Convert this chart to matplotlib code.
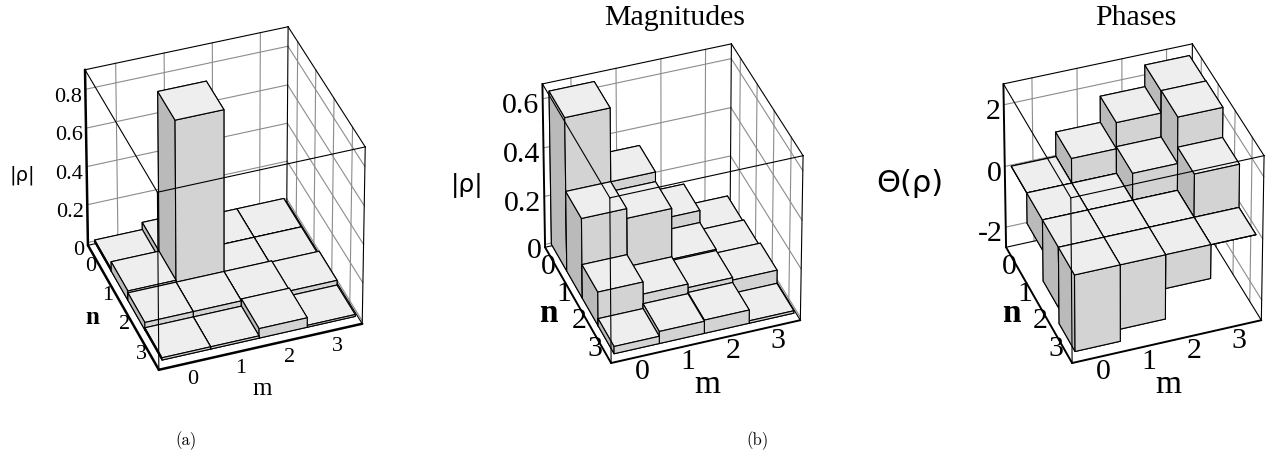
import matplotlib
matplotlib.use("Agg")
import matplotlib.pyplot as plt
from mpl_toolkits.mplot3d import proj3d

W, H = 1278, 476

# |rho| for panel (a), rows n = 0..3, columns m = 0..3
rho_a = [
    [0.012, 0.050, 0.012, 0.012],
    [0.050, 0.880, 0.012, 0.012],
    [0.040, 0.040, 0.040, 0.035],
    [0.012, 0.012, 0.050, 0.010],
]
# magnitudes, panel (b)
rho_mag = [
    [0.630, 0.330, 0.130, 0.040],
    [0.330, 0.290, 0.080, 0.050],
    [0.140, 0.090, 0.075, 0.065],
    [0.030, 0.050, 0.055, 0.010],
]
# phases, panel (b)
rho_phase = [
    [0.00, 0.80, 1.65, 2.35],
    [-1.00, 0.00, 0.87, 2.37],
    [-2.00, -1.10, 0.00, 1.40],
    [-2.50, -2.10, -1.10, 0.00],
]
m_ticks = [0, 1, 2, 3]
n_ticks = [0, 1, 2, 3]
ztick_a = [0, 0.2, 0.4, 0.6, 0.8]
ztick_mag = [0, 0.2, 0.4, 0.6]
ztick_phase = [-2, 0, 2]
ztext_a = ["0", "0.2", "0.4", "0.6", "0.8"]
ztext_mag = ["0", "0.2", "0.4", "0.6"]
ztext_phase = ["-2", "0", "2"]

TOP = "#eeeeee"
FRONT = "#d3d3d3"
SIDE = "#bababa"
SERIF = "Liberation Serif"

plt.rcParams["font.family"] = SERIF
fig = plt.figure(figsize=(W / 100, H / 100), dpi=100, facecolor="white")


def panel(rect, values, zlim, zticks, ztext, tick_size, thick, aspect, zoom):
    """one 3D bar panel; rect is left, top, width, height in pixels"""
    left, top, width, height = rect
    ax = fig.add_axes([left / W, 1 - (top + height) / H, width / W, height / H],
                      projection="3d", computed_zorder=False)
    ax.patch.set_alpha(0)
    ax.set_proj_type("persp", focal_length=2.6)
    ax.view_init(elev=37, azim=-110)
    ax.set_box_aspect(aspect, zoom=zoom)
    ax.set_axis_off()
    x0, x1 = -0.63, 3.58
    y0, y1 = 3.68, -0.54      # n grows toward the viewer
    ax.set_xlim(x0, x1)
    ax.set_ylim(y0, y1)
    ax.set_zlim(*zlim)
    z0, z1 = zlim

    # back walls
    grid = dict(color="#8c8c8c", lw=0.8, zorder=1)
    for z in zticks:
        ax.plot([x0, x1], [y1, y1], [z, z], **grid)
        ax.plot([x1, x1], [y1, y0], [z, z], **grid)
    for m in m_ticks:
        ax.plot([m, m], [y1, y1], [z0, z1], **grid)
    for n in n_ticks:
        ax.plot([x1, x1], [n, n], [z0, z1], **grid)
    thin = dict(color="black", lw=0.8)
    ax.plot([x1, x1], [y1, y1], [z0, z1], zorder=2, **thin)
    ax.plot([x0, x1], [y1, y1], [z0, z0], zorder=2, **thin)
    ax.plot([x1, x1], [y1, y0], [z0, z0], zorder=2, **thin)

    # far bars first
    order = 3
    for n in n_ticks:
        for m in reversed(m_ticks):
            v = values[n][m]
            ax.bar3d(m - 0.5, n - 0.5, min(v, 0), 1, 1, abs(v),
                     color=[FRONT, TOP, SIDE, FRONT, SIDE, FRONT],
                     shade=False, edgecolor="black", linewidth=0.8,
                     zorder=order)
            order += 1

    # frame in front of the bars
    f = 60
    ax.plot([x0, x1], [y1, y1], [z1, z1], zorder=f, **thin)
    ax.plot([x0, x1], [y0, y0], [z1, z1], zorder=f, **thin)
    ax.plot([x0, x0], [y1, y0], [z1, z1], zorder=f, **thin)
    ax.plot([x1, x1], [y1, y0], [z1, z1], zorder=f, **thin)
    ax.plot([x0, x0], [y0, y0], [z0, z1], zorder=f, **thin)
    ax.plot([x1, x1], [y0, y0], [z0, z1], zorder=f, **thin)
    heavy = dict(color="black", lw=thick, zorder=f + 1, solid_capstyle="round")
    ax.plot([x0, x0], [y1, y1], [z0, z1], **heavy)
    ax.plot([x0, x0], [y1, y0], [z0, z0], **heavy)
    ax.plot([x0, x1], [y0, y0], [z0, z0], **heavy)

    # tick labels, as flat text at the projected spot
    def tick(x, y, z, s, ha):
        xs, ys, _ = proj3d.proj_transform(x, y, z, ax.get_proj())
        ax.text2D(xs, ys, s, transform=ax.transData, ha=ha, va="center",
                  fontsize=tick_size, zorder=f + 2)

    drop = 0.04 * (z1 - z0)
    for z, s in zip(zticks, ztext):
        tick(x0 - 0.07, y1, z - drop, s, "right")
    for n in n_ticks:
        tick(x0 - 0.12, n, z0 - drop * 0.6, str(n), "center")
    for m in m_ticks:
        tick(m - 0.12, y0 + 0.5, z0, str(m), "center")
    return ax


panel((-2, -17, 440, 440), rho_a, (-0.015, 0.90), ztick_a, ztext_a, 16, 1.8, (1, 1, 1.02), 0.832)
panel((456, -2, 420, 420), rho_mag, (-0.012, 0.66), ztick_mag, ztext_mag, 21.5, 1.4, (1, 1, 1.02), 0.811)
panel((917, -2, 420, 420), rho_phase, (-2.67, 2.67), ztick_phase, ztext_phase, 21.5, 1.4, (1, 1, 1.02), 0.811)


def label(x, y, s, **kw):
    fig.text(x / W, 1 - y / H, s, ha="center", va="center", **kw)


label(22, 175, "|ρ|", family="DejaVu Sans", fontsize=14)
label(467, 185, "|ρ|", family="DejaVu Sans", fontsize=18)
label(910, 183, "Θ(ρ)", family="DejaVu Sans", fontsize=22)
label(92, 318, "n", fontsize=18, fontweight="bold")
label(262, 389, "m", fontsize=18)
label(548, 314, "n", fontsize=24, fontweight="bold")
label(707, 385, "m", fontsize=24)
label(1011, 314, "n", fontsize=24, fontweight="bold")
label(1168, 385, "m", fontsize=24)
label(675, 18, "Magnitudes", fontsize=21.5)
label(1136, 18, "Phases", fontsize=21.5)
label(186, 441, "(a)", family="cmr10", fontsize=12)
label(757, 441, "(b)", family="cmr10", fontsize=12)

fig.savefig("out.png", dpi=100)
